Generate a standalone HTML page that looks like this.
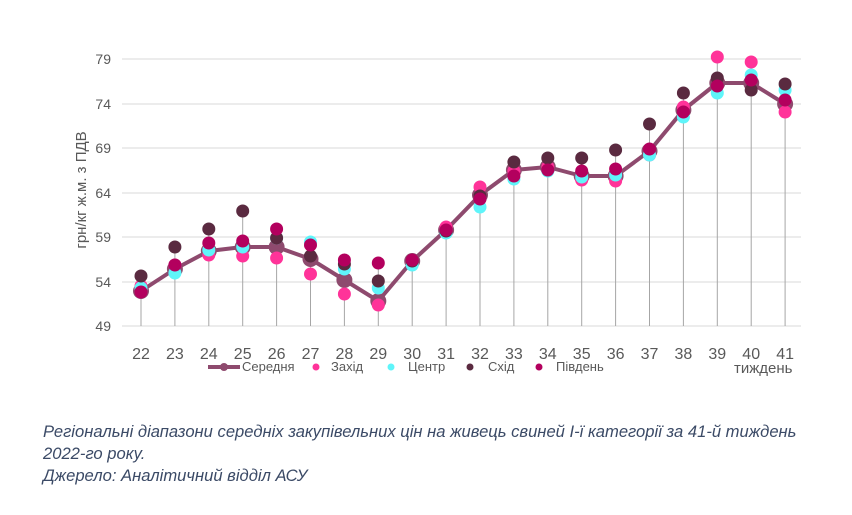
<!DOCTYPE html>
<html><head><meta charset="utf-8"><style>
body{margin:0;background:#fff;width:852px;height:515px;overflow:hidden;font-family:"Liberation Sans",sans-serif}
svg{position:absolute;left:0;top:0}
.cap{position:absolute;left:43px;font-style:italic;font-size:16.6px;color:#3b4a66;font-family:"Liberation Sans","DejaVu Sans",sans-serif;white-space:nowrap}
</style></head><body>
<svg id="s" width="852" height="515" xmlns="http://www.w3.org/2000/svg"></svg>
<div class="cap" style="top:422px">Регіональні діапазони середніх закупівельних цін на живець свиней І-ї категорії за 41-й тиждень</div>
<div class="cap" style="top:444px">2022-го року.</div>
<div class="cap" style="top:466px">Джерело: Аналітичний відділ АСУ</div>
<script>
var s=document.getElementById('s'),h='';
var ticks=[[79,59],[74,104],[69,148],[64,193],[59,237],[54,282],[49,326]];
ticks.forEach(function(t){h+='<line x1="122" x2="801" y1="'+t[1]+'" y2="'+t[1]+'" stroke="#d9d9d9" stroke-width="1"/>';
h+='<text x="111" y="'+(t[1]+5)+'" text-anchor="end" font-size="14" fill="#595959">'+t[0]+'</text>';});
h+='<text transform="translate(86,190) rotate(-90)" text-anchor="middle" font-size="15" fill="#595959">грн/кг ж.м. з ПДВ</text>';
var avg=[291,269,251,247,247,259,280,301,261,230,195,170,167,176,176,151,110,83,83,104];
var we=[286,265,255,256,258,274,294,305,263,227,187,171,167,180,181,155,107,57,62,112];
var ce=[288,273,250,247,238,242,269,288,265,233,207,179,171,177,175,155,117,93,75,90];
var ea=[276,247,229,211,238,256,264,281,261,231,196,162,158,158,150,124,93,78,90,84];
var so=[292,265,243,241,229,245,260,263,260,230,199,176,170,171,169,149,112,86,80,100];
function X(i){return 141+i*33.9;}
for(var i=0;i<20;i++){var tp=Math.min(avg[i],we[i],ce[i],ea[i],so[i]);
h+='<line x1="'+X(i)+'" x2="'+X(i)+'" y1="'+tp+'" y2="326" stroke="#a6a6a6" stroke-width="1"/>';
h+='<text x="'+X(i)+'" y="359" text-anchor="middle" font-size="16" fill="#595959">'+(22+i)+'</text>';}
var p='';for(i=0;i<20;i++)p+=(i?'L':'M')+X(i)+' '+avg[i];
h+='<path d="'+p+'" fill="none" stroke="#8e4a6e" stroke-width="4" stroke-linejoin="round"/>';
for(i=0;i<20;i++)h+='<circle cx="'+X(i)+'" cy="'+avg[i]+'" r="8" fill="#8e4a6e"/>';
[[we,'#ff3399'],[ce,'#5ff5fa'],[ea,'#5a2a40'],[so,'#b3005e']].forEach(function(d){for(var i=0;i<20;i++)h+='<circle cx="'+X(i)+'" cy="'+d[0][i]+'" r="6.5" fill="'+d[1]+'"/>';});
h+='<line x1="208" x2="240" y1="367" y2="367" stroke="#8e4a6e" stroke-width="4"/><circle cx="224" cy="367" r="4" fill="#8e4a6e"/>';
h+='<text x="242" y="371" font-size="13" fill="#595959">Середня</text>';
[[316,331,'#ff3399','Захід'],[391,408,'#5ff5fa','Центр'],[470,488,'#5a2a40','Схід'],[539,556,'#b3005e','Південь']].forEach(function(l){
h+='<circle cx="'+l[0]+'" cy="367" r="3.5" fill="'+l[2]+'"/><text x="'+l[1]+'" y="371" font-size="13" fill="#595959">'+l[3]+'</text>';});
h+='<text x="734" y="373" font-size="15" fill="#595959">тиждень</text>';
s.innerHTML=h;
</script>
</body></html>
